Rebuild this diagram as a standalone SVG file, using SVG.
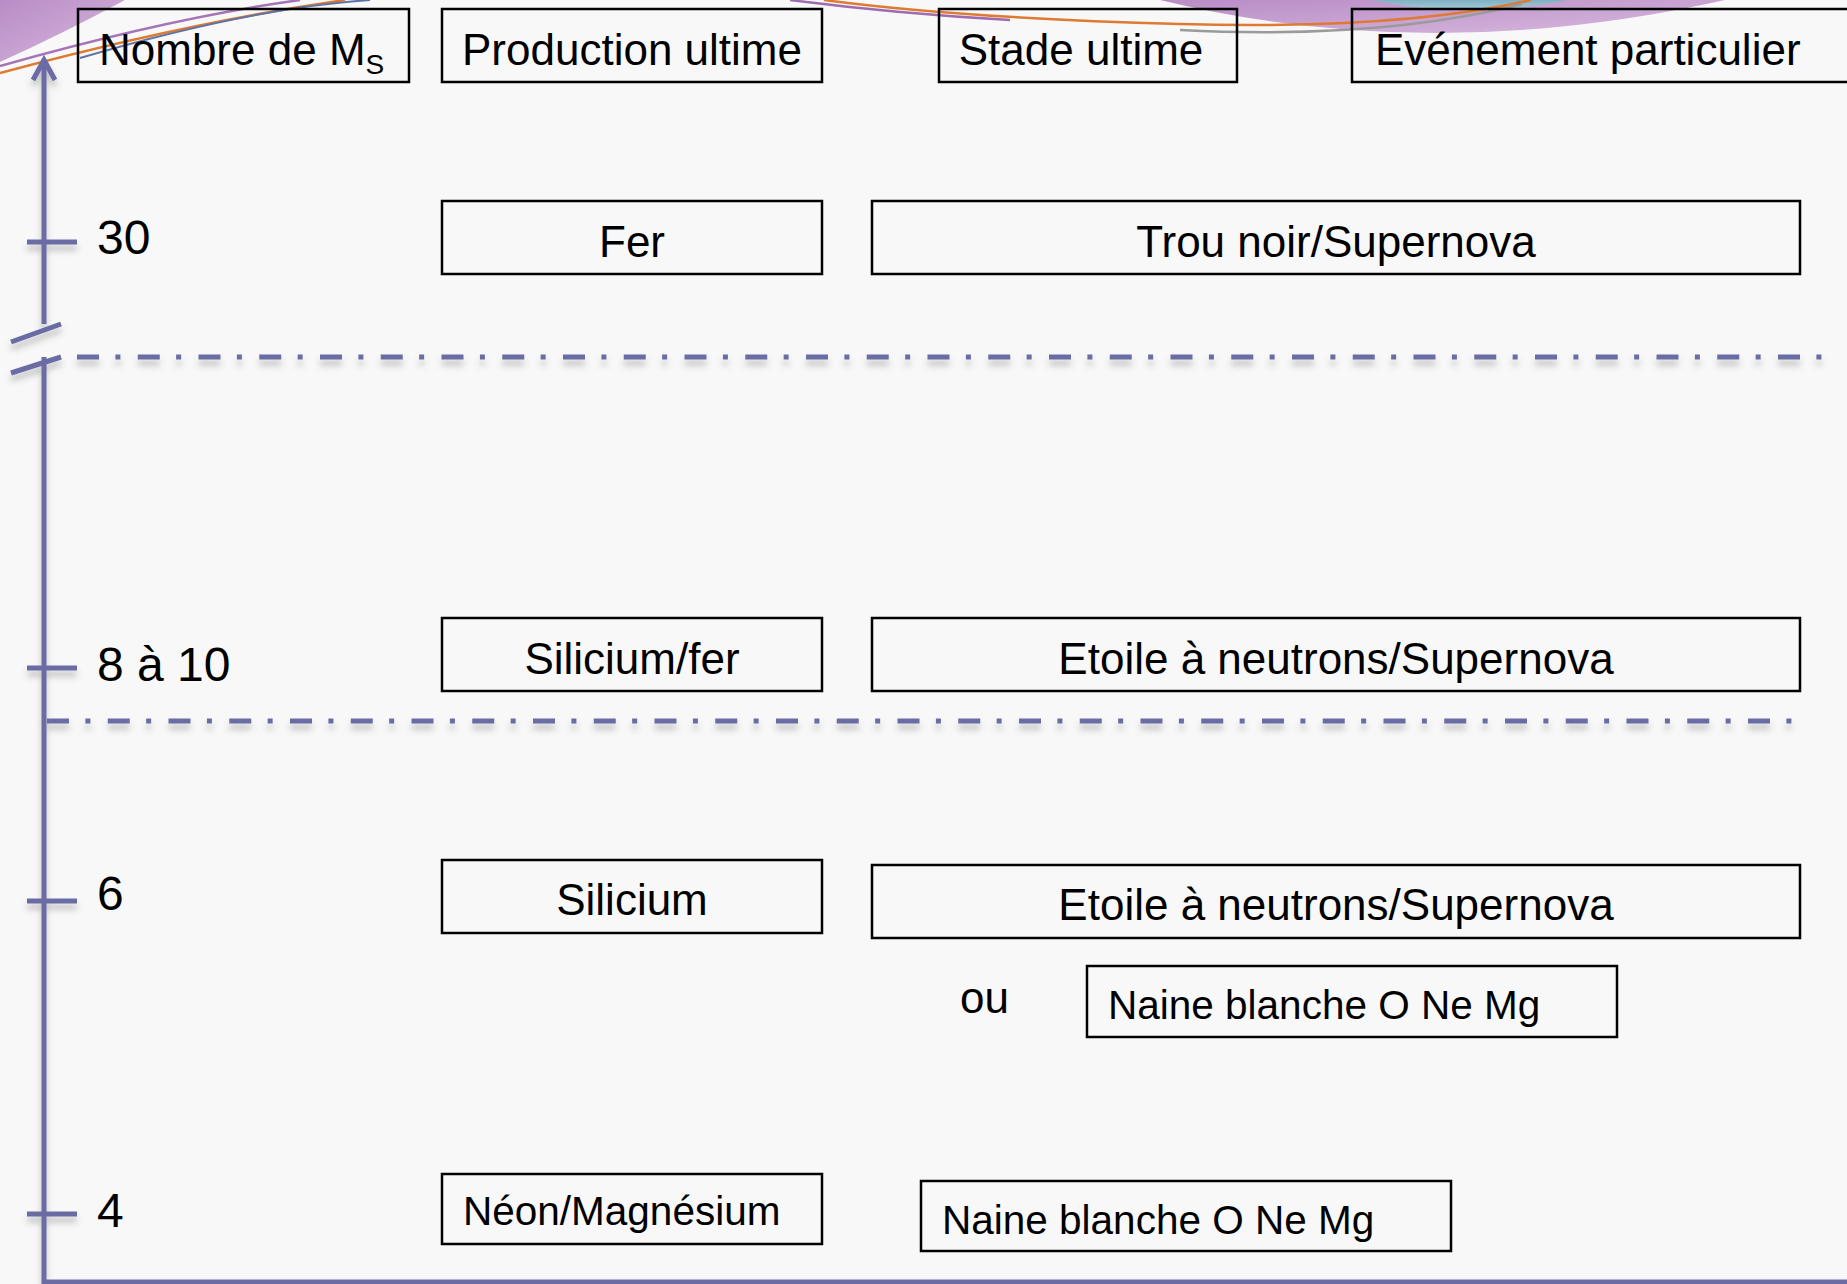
<svg xmlns="http://www.w3.org/2000/svg" width="1847" height="1284" viewBox="0 0 1847 1284">
  <defs>
    <style>
      .box { fill: none; stroke: #000; stroke-width: 2.5; }
      .t { font-family: "Liberation Sans", Arial, sans-serif; font-size: 44px; fill: #000; }
      .mid { text-anchor: middle; }
      .small { font-size: 40.5px; }
      .ax { font-family: "Liberation Sans", Arial, sans-serif; font-size: 48px; fill: #000; }
      .axis { stroke: #6A6CA3; stroke-width: 5; fill: none; }
      .sep { stroke: #6A6CA3; stroke-width: 5; fill: none; stroke-dasharray: 22 16.4 5 17.35; }
    </style>
    <filter id="shadow" x="-5%" y="-50%" width="110%" height="300%">
      <feDropShadow dx="0" dy="6" stdDeviation="3" flood-color="#555" flood-opacity="0.35"/>
    </filter>
    <linearGradient id="lilac" x1="0" y1="0" x2="1" y2="1">
      <stop offset="0" stop-color="#B98CC6"/>
      <stop offset="1" stop-color="#D7B9DE"/>
    </linearGradient>
    <linearGradient id="teal" x1="0" y1="0" x2="0" y2="1">
      <stop offset="0" stop-color="#7FB0C4"/>
      <stop offset="1" stop-color="#A6CCD6"/>
    </linearGradient>
  </defs>

  <!-- page -->
  <rect x="0" y="0" width="1847" height="1284" fill="#F8F8F8"/>

  <!-- top ornaments -->
  <g id="ornament">
    <path d="M0,0 L125,0 Q62,34 0,62 Z" fill="url(#lilac)"/>
    <path d="M1160,0 Q1430,66 1725,0 Z" fill="url(#lilac)"/>
    <path d="M1372,0 Q1465,20 1567,0 Z" fill="url(#teal)"/>
    <path d="M0,66 Q170,18 300,0" fill="none" stroke="#A574B6" stroke-width="2.5"/>
    <path d="M0,73 Q190,22 345,0" fill="none" stroke="#DE7A32" stroke-width="2.5"/>
    <path d="M80,58 Q250,8 370,0" fill="none" stroke="#5E74A8" stroke-width="2"/>
    <path d="M790,0 Q900,14 1010,20" fill="none" stroke="#9E6BB0" stroke-width="2.5"/>
    <path d="M824,0 Q960,18 1180,24 Q1400,30 1531,0" fill="none" stroke="#DE7A32" stroke-width="2.5"/>
    <path d="M1180,30 Q1380,40 1522,4" fill="none" stroke="#9A9A9A" stroke-width="2.5"/>
  </g>

  <!-- axis and separators -->
  <g id="connectors" filter="url(#shadow)">
    <path class="axis" d="M44,61 L44,324"/>
    <path class="axis" d="M33,80 L44,60 L55,80"/>
    <path class="axis" d="M11,342 L61,324"/>
    <path class="axis" d="M11,373 L61,357"/>
    <path class="axis" d="M44,357 L44,1284"/>
    <path class="axis" d="M44,1282 L1847,1282" stroke-width="3"/>
    <path class="axis" d="M27,242 L77,242"/>
    <path class="axis" d="M27,668 L77,668"/>
    <path class="axis" d="M27,901 L77,901"/>
    <path class="axis" d="M27,1214 L77,1214"/>
    <path class="sep" d="M77,357 L1826,357"/>
    <path class="sep" d="M47,721 L1792,721"/>
  </g>

  <!-- axis labels -->
  <g id="axis-labels">
    <text class="ax" x="97" y="254">30</text>
    <text class="ax" x="97" y="681">8 à 10</text>
    <text class="ax" x="97" y="910">6</text>
    <text class="ax" x="97" y="1227">4</text>
  </g>

  <!-- column headers -->
  <g id="h-masse">
    <rect class="box" x="78" y="9" width="331" height="73"/>
    <text class="t" x="99" y="65">Nombre de M<tspan font-size="28" dy="9">S</tspan></text>
  </g>
  <g id="h-production">
    <rect class="box" x="442" y="9" width="380" height="73"/>
    <text class="t mid" x="632" y="65">Production ultime</text>
  </g>
  <g id="h-stade">
    <rect class="box" x="939" y="9" width="298" height="73"/>
    <text class="t mid" x="1081" y="65">Stade ultime</text>
  </g>
  <g id="h-evenement">
    <rect class="box" x="1352" y="9" width="520" height="73"/>
    <text class="t" x="1375" y="65">Evénement particulier</text>
  </g>

  <!-- 30 Ms -->
  <g id="fer">
    <rect class="box" x="442" y="201" width="380" height="73"/>
    <text class="t mid" x="632" y="257">Fer</text>
  </g>
  <g id="trou-noir">
    <rect class="box" x="872" y="201" width="928" height="73"/>
    <text class="t mid" x="1336" y="257">Trou noir/Supernova</text>
  </g>

  <!-- 8 to 10 Ms -->
  <g id="silicium-fer">
    <rect class="box" x="442" y="618" width="380" height="73"/>
    <text class="t mid" x="632" y="674">Silicium/fer</text>
  </g>
  <g id="etoile-neutrons-1">
    <rect class="box" x="872" y="618" width="928" height="73"/>
    <text class="t mid" x="1336" y="674">Etoile à neutrons/Supernova</text>
  </g>

  <!-- 6 Ms -->
  <g id="silicium">
    <rect class="box" x="442" y="860" width="380" height="73"/>
    <text class="t mid" x="632" y="915">Silicium</text>
  </g>
  <g id="etoile-neutrons-2">
    <rect class="box" x="872" y="865" width="928" height="73"/>
    <text class="t mid" x="1336" y="920">Etoile à neutrons/Supernova</text>
  </g>
  <g id="ou">
    <text class="t" x="960" y="1013" font-size="45">ou</text>
  </g>
  <g id="naine-1">
    <rect class="box" x="1087" y="966" width="530" height="71"/>
    <text class="t small" x="1108" y="1019">Naine blanche O Ne Mg</text>
  </g>

  <!-- 4 Ms -->
  <g id="neon-magnesium">
    <rect class="box" x="442" y="1174" width="380" height="70"/>
    <text class="t small" x="463" y="1225">Néon/Magnésium</text>
  </g>
  <g id="naine-2">
    <rect class="box" x="921" y="1181" width="530" height="70"/>
    <text class="t small" x="942" y="1234">Naine blanche O Ne Mg</text>
  </g>
</svg>
